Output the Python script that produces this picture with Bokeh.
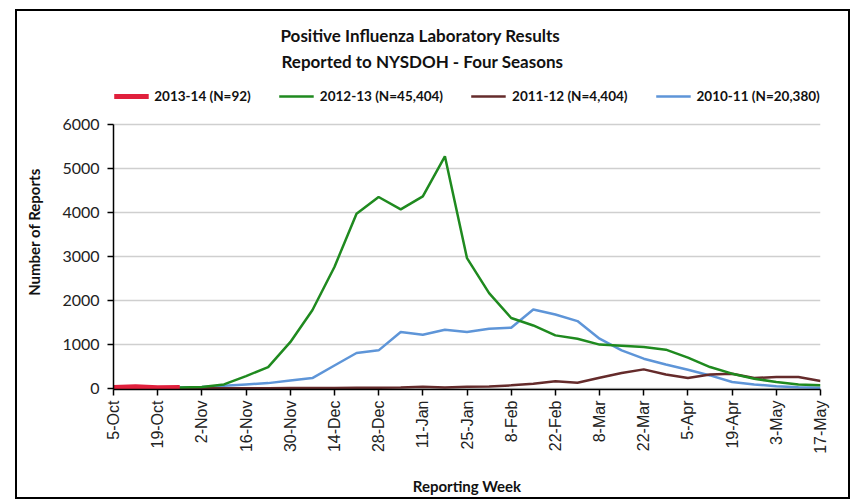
import math
from bokeh.plotting import figure
from bokeh.models import Legend, LegendItem, Title, FixedTicker, Range1d
from bokeh.embed import file_html
from bokeh.resources import INLINE

# ---- data -------------------------------------------------------------
week_index = list(range(33))
tick_positions = list(range(0, 33, 2))
tick_labels = ["5-Oct", "19-Oct", "2-Nov", "16-Nov", "30-Nov", "14-Dec", "28-Dec",
               "11-Jan", "25-Jan", "8-Feb", "22-Feb", "8-Mar", "22-Mar", "5-Apr",
               "19-Apr", "3-May", "17-May"]
y_ticks = [0, 1000, 2000, 3000, 4000, 5000, 6000]

season_1314 = [22, 38, 14, 18]
season_1213 = [5, 8, 12, 20, 30, 90, 280, 485, 1050, 1775, 2760, 3970, 4350, 4070,
               4365, 5275, 2960, 2165, 1600, 1430, 1205, 1130, 995, 970, 940, 880,
               700, 485, 335, 220, 145, 90, 70]
season_1112 = [5, 5, 5, 5, 5, 5, 5, 5, 8, 10, 10, 12, 15, 18, 35, 20, 40, 45, 70,
               107, 160, 130, 243, 348, 432, 318, 235, 318, 333, 235, 258, 258, 167]
season_1011 = [10, 12, 15, 20, 30, 60, 90, 120, 180, 235, 520, 805, 865, 1280, 1220,
               1335, 1280, 1355, 1380, 1795, 1680, 1530, 1130, 865, 675, 545, 425,
               295, 145, 90, 50, 25, 15]
labels = ["2013-14 (N=92)", "2012-13 (N=45,404)", "2011-12 (N=4,404)", "2010-11 (N=20,380)"]

FONT = "Lato"

# frame extends above 6000 so that the legend sits inside it
p = figure(frame_width=707, frame_height=315, output_backend="svg",
           toolbar_location=None, title=None,
           x_range=Range1d(0, 32), y_range=Range1d(-25, 7134),
           min_border_left=96, min_border_right=28, min_border_top=63,
           min_border_bottom=108, outline_line_color=None)
p.margin = (9, 0, 0, 15)
p.styles = {"border": "2px solid black"}

r_blue = p.line(week_index, season_1011, line_color="#5e95d8", line_width=2.5)
r_brown = p.line(week_index, season_1112, line_color="#652b2b", line_width=2.5)
r_green = p.line(week_index, season_1213, line_color="#1f8a1f", line_width=2.5)
r_red = p.line(week_index[:len(season_1314)], season_1314, line_color="#e0203c",
               line_width=5)

# axes
p.xaxis.ticker = FixedTicker(ticks=tick_positions)
p.xaxis.major_label_overrides = {t: lab for t, lab in zip(tick_positions, tick_labels)}
p.xaxis.major_label_orientation = math.pi / 2
p.xaxis.major_label_text_font = "Liberation Sans"
p.xaxis.major_label_text_font_size = "16px"
p.xaxis.major_label_text_color = "#222222"
p.xaxis.minor_tick_line_color = None
p.xaxis.major_tick_in = 0
p.xaxis.major_tick_out = 6
p.xaxis.axis_label = "Reporting Week"
p.xaxis.axis_label_standoff = 20

p.yaxis.ticker = FixedTicker(ticks=y_ticks)
p.yaxis.bounds = (-25, 6000)
p.yaxis.major_label_text_font = FONT
p.yaxis.major_label_text_font_size = "16px"
p.yaxis.major_label_text_color = "#222222"
p.yaxis.major_label_standoff = 8
p.yaxis.minor_tick_line_color = None
p.yaxis.major_tick_in = 0
p.yaxis.major_tick_out = 6
p.yaxis.axis_label = "Number of Reports"
p.yaxis.axis_label_standoff = 16

for ax in (p.xaxis, p.yaxis):
    ax.axis_line_color = "black"
    ax.axis_line_width = 1.5
    ax.major_tick_line_color = "black"
    ax.major_tick_line_width = 1.5
    ax.axis_label_text_font = FONT
    ax.axis_label_text_font_size = "15px"
    ax.axis_label_text_font_style = "bold"
    ax.axis_label_text_color = "#111111"

p.xgrid.grid_line_color = None
p.ygrid.ticker = FixedTicker(ticks=y_ticks)
p.ygrid.grid_line_color = "#cfcfcf"
p.ygrid.grid_line_width = 1.5

legend = Legend(items=[LegendItem(label=labels[0], renderers=[r_red]),
                       LegendItem(label=labels[1], renderers=[r_green]),
                       LegendItem(label=labels[2], renderers=[r_brown]),
                       LegendItem(label=labels[3], renderers=[r_blue])],
                orientation="horizontal", location="top_center",
                glyph_width=35, glyph_height=16, label_standoff=6, spacing=28,
                padding=3, margin=14, border_line_color=None,
                background_fill_color=None,
                label_text_font=FONT, label_text_font_size="13.5px",
                label_text_font_style="bold", label_text_color="#111111")
p.add_layout(legend, "center")

p.add_layout(Title(text="Reported to NYSDOH - Four Seasons", align="left", offset=168,
                   text_font=FONT, text_font_size="17px", text_font_style="bold",
                   text_color="#111111", standoff=5), "above")
p.add_layout(Title(text="Positive Influenza Laboratory Results", align="left", offset=167,
                   text_font=FONT, text_font_size="17px", text_font_style="bold",
                   text_color="#111111", standoff=2), "above")

open("out.html", "w").write(file_html(p, INLINE))
